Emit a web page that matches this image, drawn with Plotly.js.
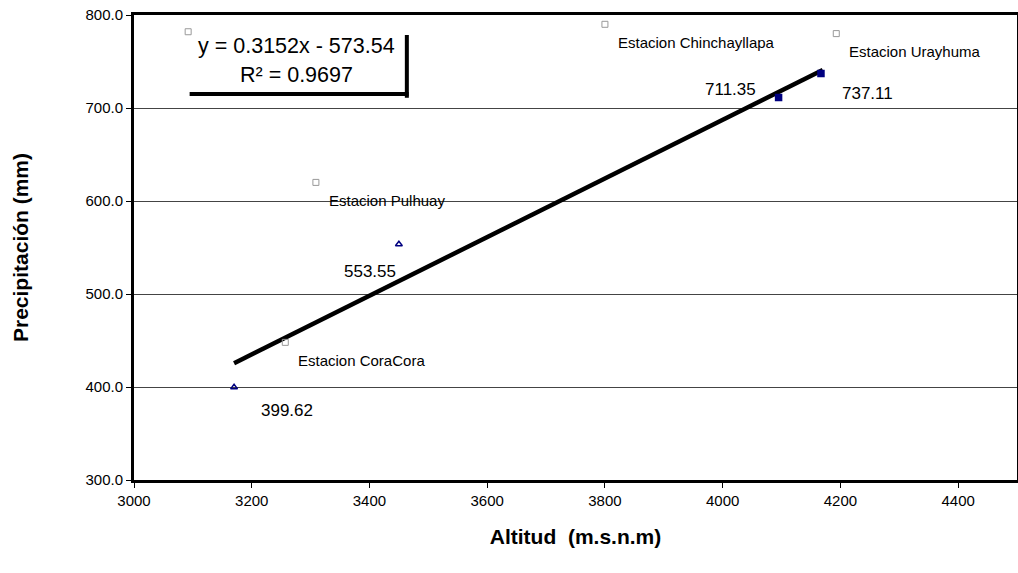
<!DOCTYPE html>
<html>
<head>
<meta charset="utf-8">
<script src="https://cdn.plot.ly/plotly-3.0.1.min.js"></script>
<style>html,body{margin:0;padding:0;background:#fff;}#chart{width:1018px;height:573px;}</style>
</head>
<body>
<div id="chart"></div>
<script>
// Observed data (altitude vs precipitation)
const altitudes = [3170, 3450, 4095, 4167];
const precipitation = [399.62, 553.55, 711.35, 737.11];
const valueLabels = ["399.62", "553.55", "711.35", "737.11"];

// Station label markers
const stationX = [3257, 3309, 3800, 4193, 3092];
const stationY = [448, 620, 790, 780, 782];
const stationNames = ["Estacion CoraCora", "Estacion Pulhuay", "Estacion Chinchayllapa", "Estacion Urayhuma", ""];

// Linear trend
const slope = 0.3152, intercept = -573.54;
const trendX = [3170, 4170];
const trendY = trendX.map(x => slope * x + intercept);
const equationLines = ["y = 0.3152x - 573.54", "R² = 0.9697"];

const xTicks = [3000, 3200, 3400, 3600, 3800, 4000, 4200, 4400];
const yTicks = [300, 400, 500, 600, 700, 800];

const traces = [
  {x: trendX, y: trendY, mode: 'lines', line: {color: '#000', width: 4.5}, showlegend: false},
  {x: altitudes, y: precipitation, mode: 'markers', showlegend: false,
   marker: {symbol: ['triangle-up-open', 'triangle-up-open', 'square', 'square'], size: 6, color: '#000080', line: {color: '#000080', width: 1.5}}},
  {x: stationX, y: stationY, mode: 'markers', showlegend: false,
   marker: {symbol: 'square-open', size: 6, color: '#999', line: {color: '#999', width: 1}}}
];

const valShifts = [[53, -23], [-29, -27], [-48, 8], [47, -20]];
const annotations = [];
altitudes.forEach((a, i) => {
  annotations.push({x: a, y: precipitation[i], xref: 'x', yref: 'y', text: valueLabels[i], showarrow: false,
    xshift: valShifts[i][0], yshift: valShifts[i][1], xanchor: 'center', yanchor: 'middle',
    font: {family: 'Liberation Sans, Arial, sans-serif', size: 17, color: '#000'}});
});
stationX.forEach((sx, i) => {
  if (!stationNames[i]) return;
  annotations.push({x: sx, y: stationY[i], xref: 'x', yref: 'y', text: stationNames[i], showarrow: false,
    xshift: 11, yshift: -18, xanchor: 'left', yanchor: 'middle',
    font: {family: 'Liberation Sans Narrow, Arial Narrow, Liberation Sans, sans-serif', size: 15, color: '#000'}});
});
const eqY = [0.933, 0.871];
equationLines.forEach((t, i) => {
  annotations.push({x: 0.184, y: eqY[i], xref: 'paper', yref: 'paper', text: t, showarrow: false,
    xanchor: 'center', yanchor: 'middle',
    font: {family: 'Liberation Sans, Arial, sans-serif', size: 21.5, color: '#000'}});
});

const layout = {
  width: 1018, height: 573,
  margin: {l: 134, r: 1, t: 15, b: 93},
  paper_bgcolor: '#fff', plot_bgcolor: '#fff',
  hovermode: false,
  font: {family: 'Liberation Sans, Arial, sans-serif', color: '#000'},
  xaxis: {range: [3000, 4500], tickvals: xTicks, ticktext: xTicks.map(String),
    showgrid: false, zeroline: false, showline: true, mirror: true, linecolor: '#000', linewidth: 3,
    ticks: 'outside', ticklen: 5, tickcolor: '#000', tickfont: {size: 15},
    title: {text: '<b>Altitud  (m.s.n.m)</b>', font: {size: 21}, standoff: 22}},
  yaxis: {range: [300, 800], tickvals: yTicks, ticktext: yTicks.map(v => v.toFixed(1)),
    showgrid: true, gridcolor: '#444', gridwidth: 1, zeroline: false,
    showline: true, mirror: true, linecolor: '#000', linewidth: 3,
    ticks: 'outside', ticklen: 5, tickcolor: '#000', tickfont: {size: 15},
    title: {text: '<b>Precipitación (mm)</b>', font: {size: 21}, standoff: 52}},
  shapes: [
    {type: 'line', xref: 'paper', yref: 'paper', x0: 0.309, x1: 0.309, y0: 0.822, y1: 0.957, line: {color: '#000', width: 4}},
    {type: 'line', xref: 'paper', yref: 'paper', x0: 0.063, x1: 0.311, y0: 0.830, y1: 0.830, line: {color: '#000', width: 4}}
  ],
  annotations: annotations
};

Plotly.newPlot('chart', traces, layout, {displayModeBar: false, staticPlot: true});
</script>
</body>
</html>
